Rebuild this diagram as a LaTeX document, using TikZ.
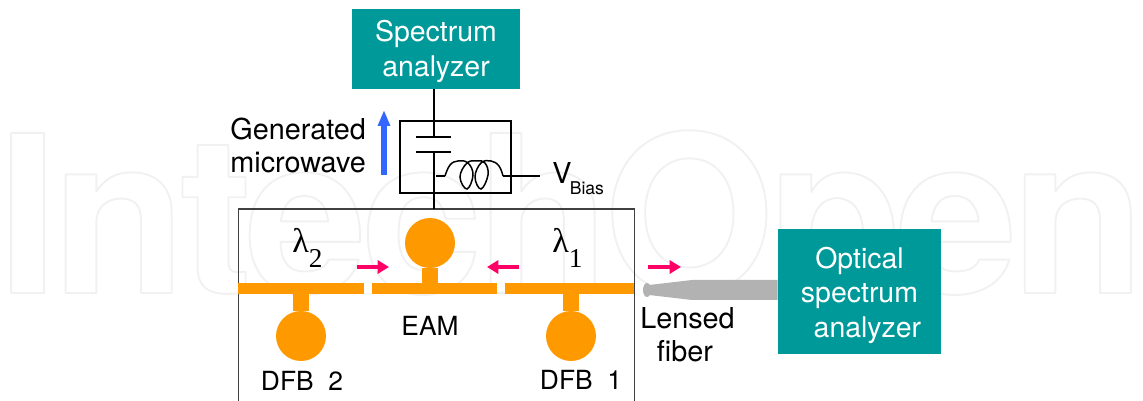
\documentclass[tikz,border=0pt]{standalone}
\usepackage{fontspec}
\setmainfont{TeX Gyre Heros}
\newfontfamily\lamfont{Liberation Serif}
\usetikzlibrary{arrows.meta,shapes.geometric}
\definecolor{teal}{HTML}{009999}
\definecolor{amber}{HTML}{FF9900}
\definecolor{pink}{HTML}{FF0066}
\definecolor{azure}{HTML}{3366FF}
\definecolor{fibergray}{HTML}{B2B2B2}
\newcommand{\lam}[1]{{\lamfont\fontsize{19.5}{19.5}\selectfont λ\raisebox{-0.42em}{\fontsize{15.5}{15.5}\selectfont #1}}}
\newcommand{\outlined}[1]{\special{pdf:code q 1 Tr 1 j 1.1 w 0.945 G}#1\special{pdf:code Q}}
\tikzset{
    label16/.style={inner sep=0, font=\fontsize{16.4}{19}\selectfont},
    label15/.style={inner sep=0, font=\fontsize{15}{18}\selectfont},
    panel/.style={rectangle, fill=teal, text=white, inner sep=0, align=center, font=\fontsize{16.2}{19.6}\selectfont},
    wire/.style={line width=0.85pt},
    bar/.style={rectangle, fill=amber, inner sep=0, minimum height=0.22cm},
    dot/.style={circle, fill=amber, inner sep=0, minimum size=1cm},
    stem/.style={amber, line width=9pt},
    beam/.style={pink, line width=2.2pt, -{Triangle[length=6.5pt,width=7.5pt]}}
}
\begin{document}
\begin{tikzpicture}[x=0.02cm, y=-0.02cm]
    \path[use as bounding box, clip] (0,0) rectangle (1143,401);
    % watermark
    \node[anchor=base west, inner sep=0, font=\fontsize{125}{125}\selectfont\bfseries\addfontfeature{LetterSpace=-3}] (mark) at (-3,293) {\outlined{IntechOpen}};
    % instruments
    \node[panel, minimum width=3.36cm, minimum height=1.6cm] (spectrum) at (436,49) {\rule{0pt}{15pt}Spectrum\\analyzer};
    \node[panel, minimum width=3.26cm, minimum height=2.5cm] (optical) at (859.5,291.5) {\rule{0pt}{16.2pt}Optical\\spectrum\\\ \ analyzer};
    % bias tee
    \node[draw, wire, inner sep=0, minimum width=2.22cm, minimum height=1.44cm] (tee) at (455.5,157) {};
    \node[label16, anchor=base west] (vbias) at (552,184) {V\kern-1pt\raisebox{-0.38em}{\fontsize{10}{10}\selectfont Bias}};
    \coordinate (plateA) at (434,137);
    \coordinate (plateB) at (434,152);
    \coordinate (coilin) at (434,176);
    \coordinate (coilstart) at (445,176);
    \coordinate (coilend) at (503,176);
    \coordinate (biasend) at (540,176);
    % chip
    \node[draw, black!75, line width=0.6pt, inner sep=0, minimum width=7.94cm, minimum height=4.2cm] (chip) at (436.5,314) {};
    \node[bar, minimum width=2.52cm] (bar2) at (301,288.5) {};
    \node[bar, minimum width=2.5cm] (baream) at (434.5,288.5) {};
    \node[bar, minimum width=2.58cm] (bar1) at (569.5,288.5) {};
    \node[dot] (dfb2) at (301,336) {};
    \node[dot] (eam) at (430,243) {};
    \node[dot] (dfb1) at (571,336) {};
    \draw[stem] (dfb2) -- (dfb2 |- bar2.south);
    \draw[stem] (eam) -- (eam |- baream.north);
    \draw[stem] (dfb1) -- (dfb1 |- bar1.south);
    \node[label15, anchor=base] (eamlabel) at (430,336) {EAM};
    \node[label15, anchor=base] (dfb2label) at (302,391) {DFB\ \ 2};
    \node[label15, anchor=base] (dfb1label) at (581,390) {DFB\ \ 1};
    \node[inner sep=0, anchor=base west] (lam2) at (292,253) {\lam{2}};
    \node[inner sep=0, anchor=base west] (lam1) at (552,253) {\lam{1}};
    % wires
    \draw[wire] (spectrum.south -| plateA) -- (plateA);
    \draw[wire] (416,137) -- (451,137);
    \draw[wire] (416,152) -- (451,152);
    \draw[wire] (plateB) -- (434,209);
    \draw[wire] (436,176) -- (coilstart);
    \draw[wire] plot[smooth, tension=0.7] coordinates {(coilstart) (450,165) (458,161) (468,163) (473,175) (467,189) (460,177) (467,163) (477,161) (485,163) (488,175) (481,189) (475,177) (481,163) (491,161) (499,166) (coilend)};
    \draw[wire] (coilend) -- (biasend);
    % fiber
    \fill[fibergray] (optical.west |- 0,280) -- (692,280) -- (649,285) -- (649,295) -- (692,300) -- (optical.west |- 0,300) -- cycle;
    \node[ellipse, fill=fibergray, inner sep=0, minimum width=0.16cm, minimum height=0.28cm] (lens) at (647,290) {};
    \node[label16, align=center] (fiberlabel) at (687.5,335) {Lensed\\fiber\kern3pt};
    % signals
    \coordinate (beamAa) at (357,267);
    \coordinate (beamAb) at (389,267);
    \coordinate (beamBa) at (519,267);
    \coordinate (beamBb) at (487,267);
    \coordinate (beamCa) at (648,267);
    \coordinate (beamCb) at (681,267);
    \draw[beam] (beamAa) -- (beamAb);
    \draw[beam] (beamBa) -- (beamBb);
    \draw[beam] (beamCa) -- (beamCb);
    \coordinate (rfa) at (384,175);
    \coordinate (rfb) at (384,110);
    \draw[azure, line width=3pt, -{Triangle[length=9pt,width=6.5pt]}] (rfa) -- (rfb);
    \node[label16, align=left, anchor=west] (rflabel) at (230,145.5) {Generated\\microwave};
\end{tikzpicture}
\end{document}
